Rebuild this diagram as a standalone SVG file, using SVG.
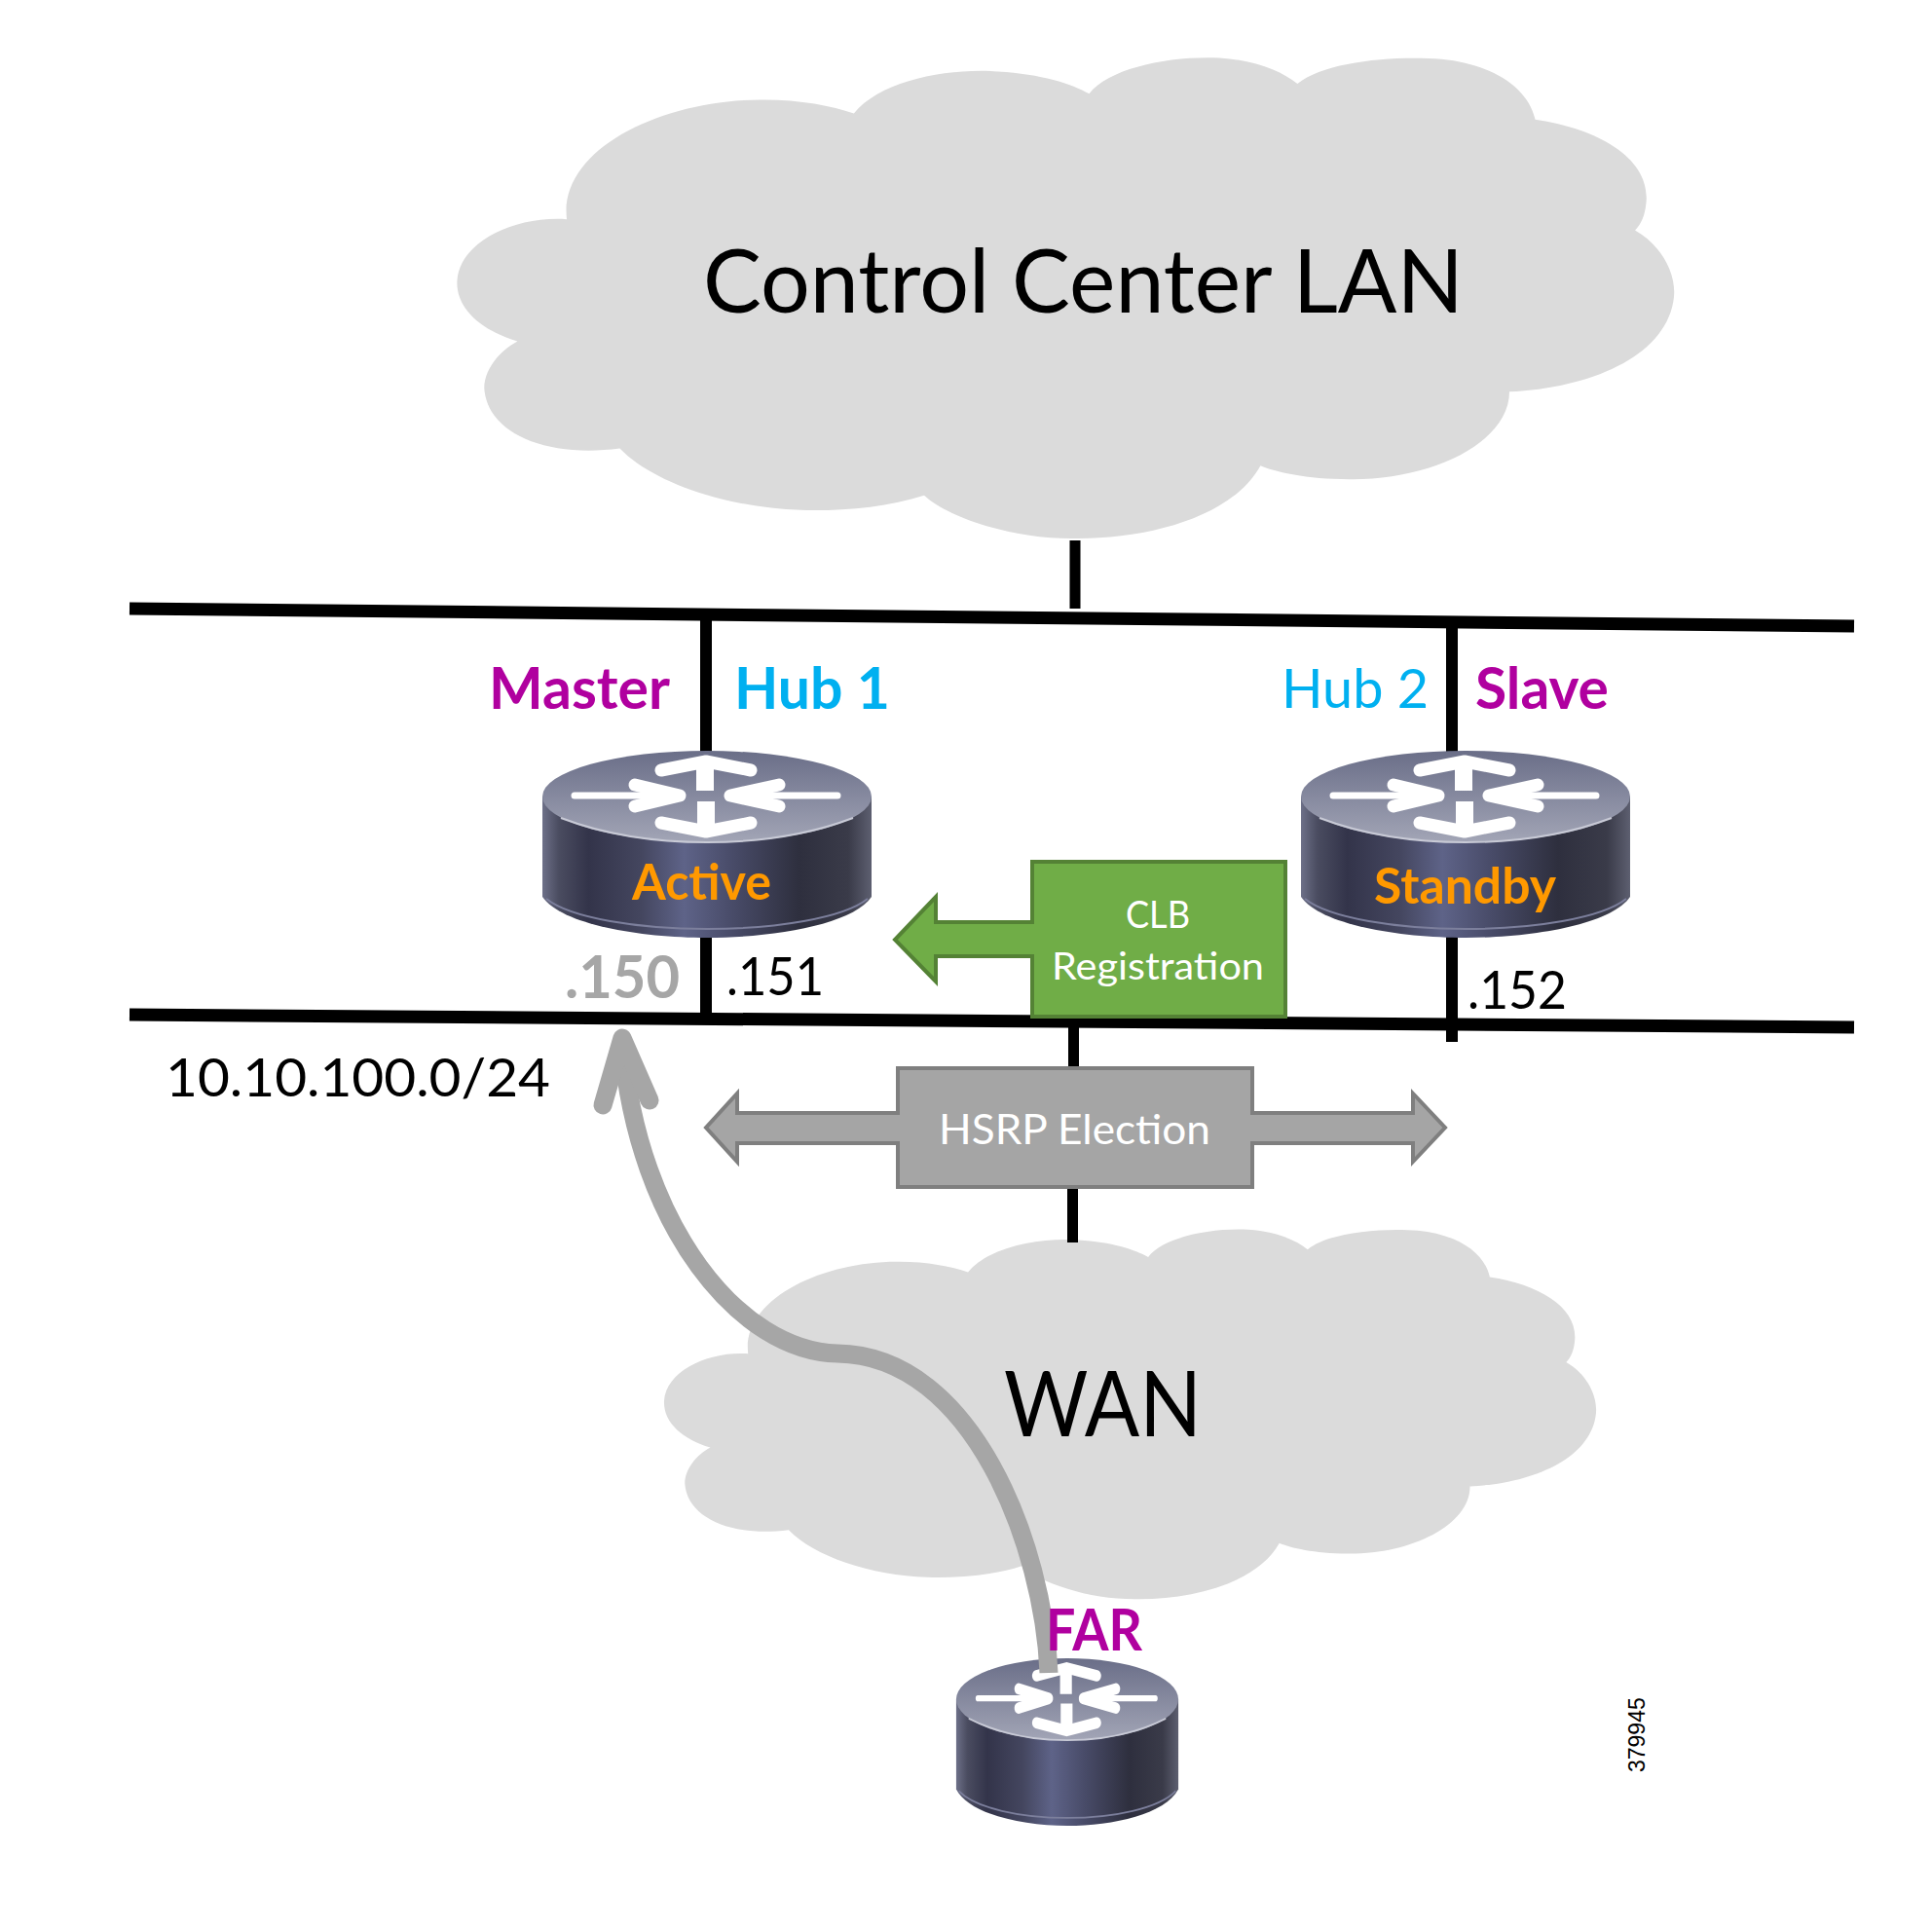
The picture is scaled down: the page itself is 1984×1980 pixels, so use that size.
<svg xmlns="http://www.w3.org/2000/svg" xmlns:xlink="http://www.w3.org/1999/xlink" width="1984" height="1980" viewBox="0 0 1984 1980">
<style>
text{font-family:"Lato","Noto Sans",sans-serif}
.cloud{fill:#dbdbdb}
.bus{stroke:#000;fill:none}
.lbl{font-size:54px}
.b{font-weight:700}
.big{font-size:59px}
.pur{fill:#b0009f}
.blu{fill:#00b0f0}
.org{fill:#ff9900}
.blk{fill:#000}
.gry{fill:#a6a6a6}
.wht{fill:#fff;font-size:39px}
.grn{fill:#70ad47;stroke:#548235;stroke-width:4}
.hsr{fill:#a5a5a5;stroke:#7f7f7f;stroke-width:4}
</style>
<defs>
<path id="cl" d="M460 178C453 120 540 80 620 81C650 81 675 86 693 92C715 65 770 55 810 58C845 60 870 68 884 76C900 55 950 45 990 47C1020 49 1040 58 1053 68C1075 50 1130 45 1170 48C1210 52 1240 70 1246 97C1300 105 1340 130 1336 165C1335 175 1332 182 1327 187C1350 200 1362 225 1358 245C1350 290 1290 315 1225 318C1225 360 1160 390 1095 389C1060 389 1035 383 1023 378C1000 420 930 438 870 437C820 437 770 420 750 402C720 412 680 415 650 414C590 412 530 392 503 364C440 372 395 350 393 315C393 300 405 285 420 277C390 268 370 250 371 228C373 195 420 175 460 178Z"/>
<linearGradient id="side" x1="0" x2="1" y1="0" y2="0">
<stop offset="0" stop-color="#6d7088"/><stop offset=".05" stop-color="#4a4c60"/><stop offset=".14" stop-color="#33344a"/><stop offset=".3" stop-color="#44465f"/><stop offset=".43" stop-color="#5e6388"/><stop offset=".58" stop-color="#484b68"/><stop offset=".78" stop-color="#2e2f3e"/><stop offset=".93" stop-color="#3a3b49"/><stop offset="1" stop-color="#5d5f70"/>
</linearGradient>
<linearGradient id="top" x1="0" x2="0" y1="0" y2="1">
<stop offset="0" stop-color="#6a6e88"/><stop offset="1" stop-color="#a2a5b6"/>
</linearGradient>
<g id="router">
<path d="M-169 47V150C-150 178 -70 192 0 192C70 192 150 178 169 150V47Z" fill="url(#side)"/>
<path d="M-165 152C-140 172 -70 183 0 183C70 183 140 172 165 152" fill="none" stroke="#7c7f9c" stroke-width="2"/>
<ellipse cx="0" cy="47" rx="169" ry="47" fill="url(#top)"/>
<path d="M-150 69C-100 88 -50 94 0 94C50 94 100 88 150 69" fill="none" stroke="#c8cad6" stroke-width="2"/>
<g fill="none" stroke="#fff" stroke-linecap="round" stroke-linejoin="round" stroke-width="13">
<path d="M-47 20L-1 11L45 20"/>
<path d="M-47 74L-1 83L45 74"/>
<path d="M-74 35L-28 46L-74 57"/>
<path d="M74 35L24 46L74 57"/>
</g>
<path d="M-11 10H7V41H-11ZM-10 52H8V84H-10Z" fill="#fff"/>
<path d="M-136 46H-40M134 46H40" stroke="#fff" stroke-width="7" stroke-linecap="round"/>
</g>
</defs>
<g id="cloud-lan"><use xlink:href="#cl" href="#cl" class="cloud" transform="scale(1.2653)"/>
<text x="722" y="321" font-size="91" textLength="781" lengthAdjust="spacingAndGlyphs" class="blk">Control Center LAN</text></g>
<g id="cloud-wan"><use xlink:href="#cl" href="#cl" class="cloud" transform="translate(322.5 1217) scale(.969 .973)"/>
<text x="1031" y="1475" font-size="93" textLength="203" lengthAdjust="spacingAndGlyphs" class="blk">WAN</text></g>
<g id="connectors">
<path class="bus" stroke-width="13" d="M133 625L1904 643"/>
<path class="bus" stroke-width="13" d="M133 1042L1904 1055"/>
<path class="bus" stroke-width="12" d="M725 630V1052M1491 640V1070"/>
<path class="bus" stroke-width="11" d="M1104 555V625M1102.500 1050V1097M1101.500 1219V1276"/>
</g>
<g id="hub1"><use xlink:href="#router" href="#router" transform="translate(726 771)"/>
<text x="649" y="924" font-size="51" textLength="143" lengthAdjust="spacingAndGlyphs" class="b org">Active</text></g>
<g id="hub2"><use xlink:href="#router" href="#router" transform="translate(1505 771)"/>
<text x="1411" y="928" font-size="51" textLength="187" lengthAdjust="spacingAndGlyphs" class="b org">Standby</text></g>
<g id="far"><use xlink:href="#router" href="#router" transform="translate(1096 1703) scale(.675 .896)"/></g>
<g id="clb"><path class="grn" d="M1060 885H1320V1044H1060V982H961V1008L919 965L961 921V947H1060Z"/>
<text x="1156" y="953" textLength="66" lengthAdjust="spacingAndGlyphs" class="wht">CLB</text>
<text x="1080" y="1006" textLength="218" lengthAdjust="spacingAndGlyphs" class="wht">Registration</text></g>
<g id="hsrp"><path class="hsr" d="M922 1097H1286V1143H1451V1123L1484 1158L1451 1193V1174H1286V1219H922V1174H757V1193L725 1158L757 1123V1143H922Z"/>
<text x="964" y="1175" textLength="279" lengthAdjust="spacingAndGlyphs" class="wht" style="font-size:43px">HSRP Election</text></g>
<g id="flow" fill="none" stroke="#a6a6a6" stroke-width="19" stroke-linejoin="round"><path d="M1077 1718C1072 1590 1000 1392 860 1390C760 1388 655 1260 639 1072"/><path d="M619 1135L639 1066L667 1130" stroke-linecap="round"/></g>
<g id="labels">
<text x="502" y="728" textLength="186" lengthAdjust="spacingAndGlyphs" class="big b pur">Master</text>
<text x="754" y="728" textLength="160" lengthAdjust="spacingAndGlyphs" class="big b blu">Hub 1</text>
<text x="1316" y="727" textLength="151" lengthAdjust="spacingAndGlyphs" class="lbl blu" style="font-size:56px">Hub 2</text>
<text x="1515" y="728" textLength="137" lengthAdjust="spacingAndGlyphs" class="big b pur">Slave</text>
<text x="580" y="1025" font-size="62" textLength="118" lengthAdjust="spacingAndGlyphs" class="b gry">.150</text>
<text x="746" y="1022" textLength="100" lengthAdjust="spacingAndGlyphs" class="lbl blk">.151</text>
<text x="1507" y="1036" textLength="102" lengthAdjust="spacingAndGlyphs" class="lbl blk">.152</text>
<text x="170" y="1126" textLength="395" lengthAdjust="spacingAndGlyphs" class="lbl blk">10.10.100.0/24</text>
<text x="1074" y="1695" textLength="99" lengthAdjust="spacingAndGlyphs" class="big b pur">FAR</text>
<text transform="translate(1689 1820) rotate(-90)" style="font-family:'Liberation Sans',Arial,sans-serif" font-size="23" class="blk">379945</text>
</g>
</svg>
